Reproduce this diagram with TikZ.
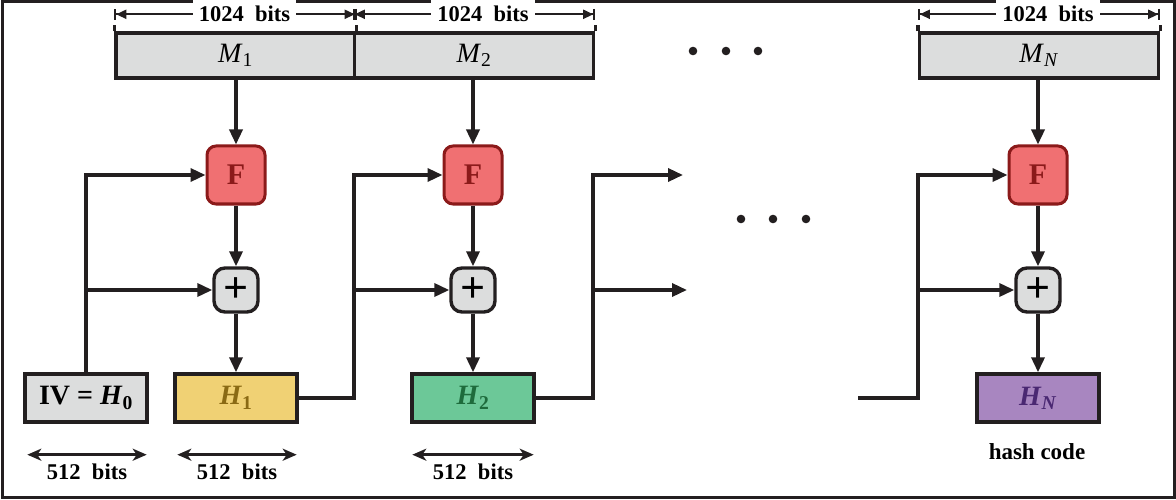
\documentclass[tikz,border=0pt]{standalone}
\usepackage{fontspec}
\setmainfont{Liberation Serif}
\usetikzlibrary{arrows.meta}

\definecolor{ink}{HTML}{231F20}
\definecolor{boxgray}{HTML}{DCDDDD}
\definecolor{fred}{HTML}{F07072}
\definecolor{fdark}{HTML}{8B1A1A}
\definecolor{hone}{HTML}{F0D174}
\definecolor{honetext}{HTML}{8A6A14}
\definecolor{htwo}{HTML}{6CC898}
\definecolor{htwotext}{HTML}{1E6B3C}
\definecolor{hlast}{HTML}{A886C0}
\definecolor{hlasttext}{HTML}{4A2872}

\begin{document}
\begin{tikzpicture}[x=1pt, y=-1pt, line width=3.4pt, draw=ink,
	msg/.style={draw=ink, fill=boxgray, minimum width=239pt, minimum height=45pt, inner sep=0pt, font=\fontsize{28}{32}\selectfont},
	fun/.style={draw=fdark, fill=fred, text=fdark, line width=3pt, rounded corners=9pt, minimum size=58pt, font=\fontsize{30}{34}\selectfont\bfseries},
	add/.style={draw=ink, fill=boxgray, rounded corners=11pt, minimum size=44pt, inner sep=0pt, font=\fontsize{44}{44}\selectfont\bfseries},
	chain/.style={draw=ink, minimum width=122pt, minimum height=48pt, inner sep=0pt, font=\fontsize{28}{32}\selectfont\bfseries},
	bits/.style={font=\fontsize{22.5}{26}\selectfont\bfseries, inner sep=6pt},
	flow/.style={-{Triangle[length=15pt,width=13pt]}},
	dim/.style={line width=2pt, {Bar[width=11pt]Triangle[length=10pt,width=9pt]}-{Triangle[length=10pt,width=9pt]Bar[width=11pt]}},
	span/.style={line width=2.5pt, {Stealth[length=14pt,width=12pt,inset=4pt]}-{Stealth[length=14pt,width=12pt,inset=4pt]}}]
	\useasboundingbox (0,0) rectangle (1176,500);
	\draw[line width=3pt] (2,2) rectangle (1174,497);

	% message blocks
	\node[msg] (m1) at (235.5,55.5) {\textit{M}\textsubscript{1}};
	\node[msg] (m2) at (474,55.5)   {\textit{M}\textsubscript{2}};
	\node[msg] (mN) at (1039,55.5)  {\textit{M}\textsubscript{\textit{N}}};
	\draw (m1.north west) -- ++(0,-6);
	\draw (m1.north east) -- ++(0,-6);
	\draw (m2.north east) -- ++(0,-6);
	\draw (mN.north west) -- ++(0,-6);
	\draw (mN.north east) -- ++(0,-6);
	\draw[dim] ([yshift=17pt]m1.north west) -- node[bits, fill=white, xshift=9pt] (d1) {1024\ \ bits} ([yshift=17pt]m1.north east);
	\draw[dim] ([yshift=17pt]m2.north west) -- node[bits, fill=white, xshift=9pt] (d2) {1024\ \ bits} ([yshift=17pt]m2.north east);
	\draw[dim] ([yshift=17pt]mN.north west) -- node[bits, fill=white, xshift=9pt] (dN) {1024\ \ bits} ([yshift=17pt]mN.north east);

	% compression stages
	\node[fun] (f1) at (236,175)  {F};
	\node[fun] (f2) at (473,175)  {F};
	\node[fun] (fN) at (1038,175) {F};
	\node[add] (p1) at (236,290)  {+};
	\node[add] (p2) at (473,290)  {+};
	\node[add] (pN) at (1038,290) {+};

	\node[chain, fill=boxgray] (iv) at (86,398) {IV = \textit{H}\textsubscript{0}};
	\node[chain, fill=hone, text=honetext] (h1) at (236,398) {\textit{H}\textsubscript{1}};
	\node[chain, fill=htwo, text=htwotext] (h2) at (473,398) {\textit{H}\textsubscript{2}};
	\node[chain, fill=hlast, text=hlasttext] (hN) at (1038,398) {\textit{H}\textsubscript{\textit{N}}};

	\foreach \s in {1,2,N} {
		\draw[flow] (m\s.south -| f\s) -- (f\s);
		\draw[flow] (f\s) -- (p\s);
		\draw[flow] (p\s) -- (h\s);
	}

	% chaining values
	\coordinate (j1) at (354,398);
	\coordinate (j2) at (593,398);
	\coordinate (jN) at (918,398);
	\coordinate (s)  at (858,398);
	\coordinate (o1) at (683,175);
	\coordinate (o2) at (687,290);
	\draw[flow] (iv.north) |- (f1.west);
	\draw[flow] (iv.north |- p1.west) -- (p1.west);
	\draw[flow] (h1.east) -- (j1) |- (f2.west);
	\draw[flow] (j1 |- p2.west) -- (p2.west);
	\draw[flow] (h2.east) -- (j2) |- (o1);
	\draw[flow] (j2 |- o2) -- (o2);
	\draw[flow] (s) -- (jN) |- (fN.west);
	\draw[flow] (jN |- pN.west) -- (pN.west);

	% dots
	\foreach \x in {693,726,758} \fill[ink] (\x,51) circle (4.3pt);
	\foreach \x in {741,773,806} \fill[ink] (\x,219) circle (4.3pt);

	% sizes
	\draw[span] ([xshift=4pt,yshift=-31pt]iv.south west) -- node[bits, below=2pt] (b0) {512\ \ bits} ([xshift=-2pt,yshift=-31pt]iv.south east);
	\draw[span] ([xshift=4pt,yshift=-31pt]h1.south west) -- node[bits, below=2pt] (b1) {512\ \ bits} ([xshift=-2pt,yshift=-31pt]h1.south east);
	\draw[span] ([xshift=2pt,yshift=-31pt]h2.south west) -- node[bits, below=2pt] (b2) {512\ \ bits} ([xshift=-2pt,yshift=-31pt]h2.south east);
	\node[bits, font=\fontsize{23}{26}\selectfont\bfseries] (hc) at (1037,452) {hash code};
\end{tikzpicture}
\end{document}
